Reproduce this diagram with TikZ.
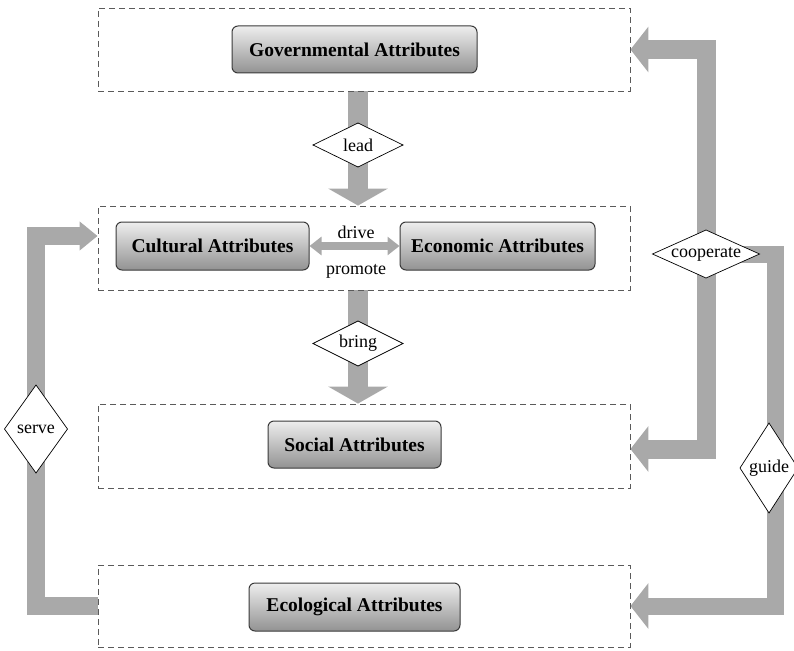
\documentclass[tikz,border=0pt]{standalone}
\usepackage{fontspec}
\setmainfont{Liberation Serif}
\usetikzlibrary{arrows.meta,shapes.geometric,calc,backgrounds}
\definecolor{arrowgray}{HTML}{A9A9A9}
\definecolor{boxedge}{HTML}{3A3A3A}
\definecolor{dashgray}{HTML}{5A5A5A}
\definecolor{boxtop}{HTML}{EEEEEE}
\definecolor{boxbot}{HTML}{929292}
\begin{document}
\begin{tikzpicture}[x=1pt,y=-1pt,
  group/.style={draw=dashgray, line width=0.9pt, dash pattern=on 6pt off 4pt, inner sep=0pt, minimum width=532pt},
  attr/.style={draw=boxedge, line width=1pt, rounded corners=6pt, top color=boxtop, bottom color=boxbot, font=\fontsize{19.5}{22}\selectfont\bfseries, inner sep=0pt, minimum height=47pt},
  verb/.style={diamond, draw=black, line width=0.7pt, fill=white, inner sep=0pt, outer sep=0pt},
  vtext/.style={font=\fontsize{18}{20}\selectfont, inner sep=0pt},
  fat/.style={draw=arrowgray, line join=miter},
  lbl/.style={font=\fontsize{18}{20}\selectfont, inner sep=0pt, anchor=base}
]
\useasboundingbox (0,0) rectangle (794,650);

% dashed groups
\node[group, minimum height=83pt] (top) at (364,49.5) {};
\node[group, minimum height=84pt] (mid) at (364,248) {};
\node[group, minimum height=84pt] (soc) at (364,446) {};
\node[group, minimum height=82pt] (ecb) at (364,606) {};

% attribute boxes
\node[attr, minimum width=245pt] (gov) at (354.5,49.5) {Governmental Attributes};
\node[attr, minimum width=193pt, minimum height=48pt] (cult) at (212.5,246) {Cultural Attributes};
\node[attr, minimum width=195pt, minimum height=48pt] (econ) at (497.5,246) {Economic Attributes};
\node[attr, minimum width=173pt] (social) at (354.5,444.5) {Social Attributes};
\node[attr, minimum width=211pt, minimum height=48pt] (ecol) at (354.5,607) {Ecological Attributes};

% relation diamonds
\node[verb, minimum width=90pt, minimum height=44pt, label={[vtext]center:lead}] (lead) at (358,145) {};
\node[verb, minimum width=90pt, minimum height=45pt, label={[vtext]center:bring}] (bring) at (358,343.5) {};
\node[verb, minimum width=107pt, minimum height=48pt, label={[vtext]center:cooperate}] (coop) at (706,254) {};
\node[verb, minimum width=63pt, minimum height=88pt, label={[vtext]center:serve}] (serve) at (36,429) {};
\node[verb, minimum width=58pt, minimum height=90pt, label={[vtext]center:guide}] (guide) at (769,468) {};

\coordinate (gcol) at (775,468);
\coordinate (servein) at ($(mid.west)+(0,-12)$);
\coordinate (socin) at ($(soc.east)+(0,3)$);

\begin{scope}[on background layer]
\draw[fat, line width=20pt, -{Triangle[width=59pt,length=17pt]}] (top.south -| lead) -- (mid.north -| lead);
\draw[fat, line width=20pt, -{Triangle[width=59pt,length=17pt]}] (mid.south -| bring) -- (soc.north -| bring);
\draw[fat, line width=19pt, {Triangle[width=45pt,length=18pt]}-{Triangle[width=45pt,length=18pt]}] (top.east) -| (coop.center) |- (socin);
\draw[fat, line width=17pt, -{Triangle[width=45pt,length=18pt]}] (coop.center) -| (gcol) |- (ecb.east);
\draw[fat, line width=18pt, -{Triangle[width=28pt,length=18pt]}] (ecb.west) -| (serve.center) |- (servein);
\draw[fat, line width=8pt, {Triangle[width=18pt,length=12pt]}-{Triangle[width=18pt,length=12pt]}] (cult.east) -- (econ.west);
\end{scope}

\node[lbl] (drive) at (356,238) {drive};
\node[lbl] (promote) at (356,274) {promote};
\end{tikzpicture}
\end{document}
